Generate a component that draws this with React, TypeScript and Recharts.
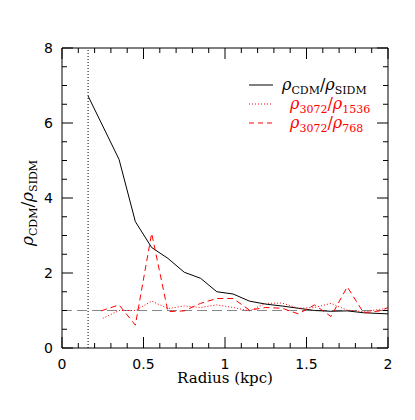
import React from "react";
import { Line, LineChart, ReferenceLine, XAxis, YAxis } from "recharts";

const radiusCdm = [0.16, 0.35, 0.45, 0.55, 0.65, 0.75, 0.85, 0.95, 1.05, 1.15, 1.25, 1.35, 1.45, 1.55, 1.65, 1.75, 1.85, 2.0];
const ratioCdm = [6.72, 5.03, 3.37, 2.68, 2.39, 2.02, 1.86, 1.5, 1.44, 1.25, 1.17, 1.12, 1.06, 1.0, 0.98, 0.99, 0.94, 0.91];

const radius1536 = [0.25, 0.35, 0.45, 0.55, 0.65, 0.75, 0.85, 0.95, 1.05, 1.15, 1.25, 1.35, 1.45, 1.55, 1.65, 1.75, 1.85, 1.95, 2.0];
const ratio1536 = [0.79, 1.0, 1.0, 1.25, 1.05, 1.12, 1.08, 1.15, 1.08, 0.99, 1.19, 1.2, 1.06, 1.08, 1.19, 1.01, 0.97, 1.03, 1.06];

const radius768 = [0.24, 0.35, 0.45, 0.55, 0.65, 0.75, 0.85, 0.95, 1.05, 1.15, 1.25, 1.35, 1.45, 1.55, 1.65, 1.75, 1.85, 1.95, 2.0];
const ratio768 = [0.99, 1.15, 0.61, 3.06, 0.97, 0.99, 1.19, 1.32, 1.32, 1.01, 1.08, 1.06, 0.91, 1.15, 0.84, 1.63, 0.94, 0.99, 1.08];

const xTicks = [0, 0.1, 0.2, 0.3, 0.4, 0.5, 0.6, 0.7, 0.8, 0.9, 1, 1.1, 1.2, 1.3, 1.4, 1.5, 1.6, 1.7, 1.8, 1.9, 2];
const yTicks = [0, 0.5, 1, 1.5, 2, 2.5, 3, 3.5, 4, 4.5, 5, 5.5, 6, 6.5, 7, 7.5, 8];
const innerRadius = 0.16;
const unityRatio = 1;

const toPoints = (xs: number[], ys: number[]) => xs.map((r, i) => ({ r, v: ys[i] }));
const cdmData = toPoints(radiusCdm, ratioCdm);
const data1536 = toPoints(radius1536, ratio1536);
const data768 = toPoints(radius768, ratio768);

const RED = "#ff0000";
const tickFont = "DejaVu Sans, sans-serif";
const serif = "DejaVu Serif, serif";

const X_MAX = 2;
const Y_MAX = 8;
// plot box (matches chart margins + axis sizes below)
const BOX = { left: 62, right: 388, top: 48, bottom: 348 };
const MAJOR = 11;
const MINOR = 5;

const isMult = (v: number, step: number) => Math.abs(v / step - Math.round(v / step)) < 1e-6;
const px = (t: number) => BOX.left + (t / X_MAX) * (BOX.right - BOX.left);
const py = (t: number) => BOX.bottom - (t / Y_MAX) * (BOX.bottom - BOX.top);

function BottomLabel(props: any) {
  const { x, y, payload } = props;
  if (!isMult(payload.value, 0.5)) return <g />;
  return (
    <text x={x} y={y + 21} textAnchor="middle" fontSize={14} fontFamily={tickFont} fill="#000">
      {String(payload.value)}
    </text>
  );
}

function LeftLabel(props: any) {
  const { x, y, payload } = props;
  if (!isMult(payload.value, 2)) return <g />;
  return (
    <text x={x - 9} y={y + 5} textAnchor="end" fontSize={14} fontFamily={tickFont} fill="#000">
      {String(payload.value)}
    </text>
  );
}

function RatioText({ a, b, color, x, y }: { a: string; b: string; color: string; x: number; y: number }) {
  return (
    <text x={x} y={y} fill={color} fontFamily={serif}>
      <tspan fontSize={16} fontStyle="italic">ρ</tspan>
      <tspan fontSize={11} dy={4}>{a}</tspan>
      <tspan fontSize={16} dy={-4}>/</tspan>
      <tspan fontSize={16} fontStyle="italic">ρ</tspan>
      <tspan fontSize={11} dy={4}>{b}</tspan>
    </text>
  );
}

// tick marks on all four sides, axis titles and legend, laid over the chart
function Overlay() {
  return (
    <svg width={415} height={420} style={{ position: "absolute", left: 0, top: 0, pointerEvents: "none" }}>
      <g stroke="#000" strokeWidth={1}>
        {xTicks.map((t) => {
          const len = isMult(t, 0.5) ? MAJOR : MINOR;
          const x = px(t);
          return (
            <g key={`x${t}`}>
              <line x1={x} x2={x} y1={BOX.bottom} y2={BOX.bottom - len} />
              <line x1={x} x2={x} y1={BOX.top} y2={BOX.top + len} />
            </g>
          );
        })}
        {yTicks.map((t) => {
          const len = isMult(t, 2) ? MAJOR : MINOR;
          const y = py(t);
          return (
            <g key={`y${t}`}>
              <line x1={BOX.left} x2={BOX.left + len} y1={y} y2={y} />
              <line x1={BOX.right} x2={BOX.right - len} y1={y} y2={y} />
            </g>
          );
        })}
      </g>
      <text x={225} y={383} textAnchor="middle" fontSize={15} fontFamily={serif} fill="#000">
        Radius (kpc)
      </text>
      <text transform="translate(33,203) rotate(-90)" textAnchor="middle" fill="#000" fontFamily={serif}>
        <tspan fontSize={17} fontStyle="italic">ρ</tspan>
        <tspan fontSize={11} dy={4}>CDM</tspan>
        <tspan fontSize={17} dy={-4}>/</tspan>
        <tspan fontSize={17} fontStyle="italic">ρ</tspan>
        <tspan fontSize={11} dy={4}>SIDM</tspan>
      </text>
      <line x1={249} x2={273} y1={85} y2={85} stroke="#000" />
      <RatioText a="CDM" b="SIDM" color="#000" x={282} y={90} />
      <line x1={249} x2={273} y1={104} y2={104} stroke={RED} strokeDasharray="1 2" />
      <RatioText a="3072" b="1536" color={RED} x={290} y={109} />
      <line x1={249} x2={273} y1={123} y2={123} stroke={RED} strokeDasharray="5 4" />
      <RatioText a="3072" b="768" color={RED} x={290} y={128} />
    </svg>
  );
}

export default function App() {
  return (
    <div style={{ position: "absolute", left: 0, top: 0, width: 415, height: 420, background: "#fff" }}>
      <LineChart width={415} height={420} margin={{ top: 48, right: 27, left: 0, bottom: 0 }}>
        <XAxis
          dataKey="r"
          type="number"
          domain={[0, X_MAX]}
          ticks={xTicks}
          interval={0}
          height={72}
          tickSize={0}
          tickMargin={0}
          axisLine={{ stroke: "#000" }}
          tick={<BottomLabel />}
          allowDataOverflow
        />
        <YAxis
          type="number"
          domain={[0, Y_MAX]}
          ticks={yTicks}
          interval={0}
          width={62}
          tickSize={0}
          tickMargin={0}
          axisLine={{ stroke: "#000" }}
          tick={<LeftLabel />}
        />
        <ReferenceLine y={Y_MAX} stroke="#000" />
        <ReferenceLine x={X_MAX} stroke="#000" />
        <ReferenceLine y={unityRatio} stroke="#888" strokeDasharray="10 5" />
        <ReferenceLine x={innerRadius} stroke="#000" strokeDasharray="1 2" />
        <Line data={cdmData} dataKey="v" type="linear" stroke="#000" dot={false} isAnimationActive={false} />
        <Line
          data={data1536}
          dataKey="v"
          type="linear"
          stroke={RED}
          strokeDasharray="1 2"
          dot={false}
          isAnimationActive={false}
        />
        <Line
          data={data768}
          dataKey="v"
          type="linear"
          stroke={RED}
          strokeDasharray="6 4"
          dot={false}
          isAnimationActive={false}
        />
      </LineChart>
      <Overlay />
    </div>
  );
}
